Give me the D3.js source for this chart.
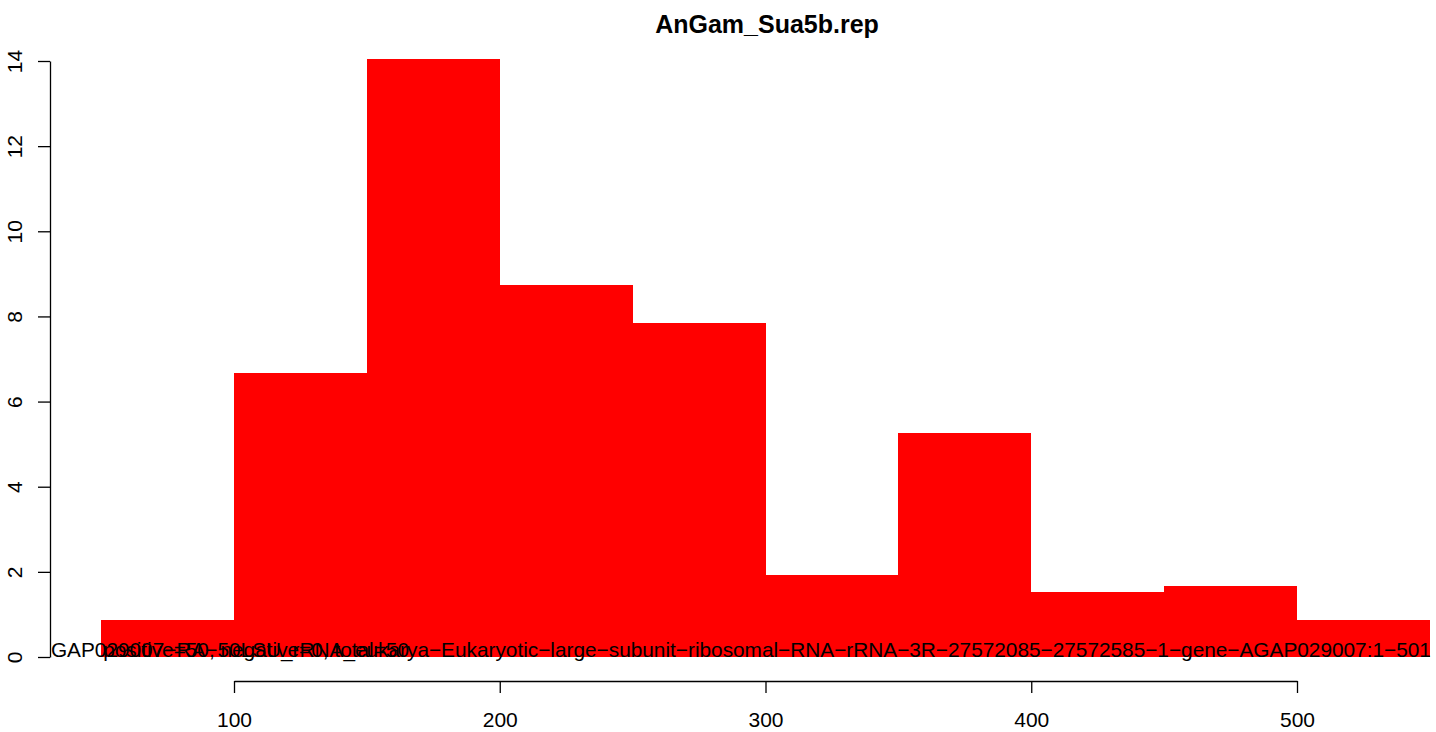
<!DOCTYPE html>
<html>
<head>
<meta charset="utf-8">
<script src="https://cdn.jsdelivr.net/npm/d3@7"></script>
<style>
html, body { margin: 0; padding: 0; background: #fff; }
svg { display: block; font-family: "Liberation Sans", Arial, Helvetica, sans-serif; }
</style>
</head>
<body>
<svg id="chart" width="1436" height="732"></svg>
<script>
// ---- data ----
const binStarts = [50, 100, 150, 200, 250, 300, 350, 400, 450, 500];
const binWidth = 50;
const densities = [0.88, 6.68, 14.05, 8.75, 7.85, 1.92, 5.27, 1.52, 1.67, 0.88];
const xTicks = [100, 200, 300, 400, 500];
const yTicks = [0, 2, 4, 6, 8, 10, 12, 14];
const titleText = "AnGam_Sua5b.rep";
const labelA = "AGAP029007\u2212RA\u221250LSU_rRNA_eukarya\u2212Eukaryotic\u2212large\u2212subunit\u2212ribosomal\u2212RNA\u2212rRNA\u22123R\u221227572085\u221227572585\u22121\u2212gene\u2212AGAP029007:1\u2212501";
const labelB = "positive=50, negative=0, total=50";

// ---- layout ----
const svg = d3.select("#chart");
const x = d3.scaleLinear().domain([100, 500]).range([234, 1297]);
const y = d3.scaleLinear().domain([0, 14]).range([657, 61]);
const fontSize = 21;

// clip for plot region
svg.append("defs").append("clipPath").attr("id", "plotclip")
  .append("rect").attr("x", 50).attr("y", 0).attr("width", 1436 - 50).attr("height", 732);

// bars
svg.append("g").selectAll("rect")
  .data(binStarts.map((s, i) => ({ s, v: densities[i] })))
  .join("rect")
  .attr("x", d => x(d.s))
  .attr("width", d => x(d.s + binWidth) - x(d.s))
  .attr("y", d => y(d.v))
  .attr("height", d => y(0) - y(d.v))
  .attr("fill", "#ff0000")
  .attr("shape-rendering", "crispEdges");

// overlapping labels at baseline
const lab = svg.append("g").attr("clip-path", "url(#plotclip)")
  .attr("font-size", 20.8).attr("fill", "#000");
lab.append("text").attr("x", x(550) + 1).attr("y", y(0)).attr("text-anchor", "end").text(labelA);
lab.append("text").attr("x", x(50) + 2).attr("y", y(0)).attr("text-anchor", "start").text(labelB);

// x axis
const xAxis = d3.axisBottom(x).tickValues(xTicks).tickSize(12).tickSizeOuter(0).tickPadding(19)
  .tickFormat(d3.format("d"));
const gx = svg.append("g").attr("transform", "translate(0,681)").call(xAxis);
gx.attr("font-family", null);
gx.selectAll("text").attr("font-size", fontSize).attr("fill", "#000");
gx.selectAll("path,line").attr("stroke", "#000").attr("stroke-width", 1.3);

// y axis
const yAxis = d3.axisLeft(y).tickValues(yTicks).tickSize(12).tickSizeOuter(0).tickFormat(d3.format("d"));
const gy = svg.append("g").attr("transform", "translate(50,0)").call(yAxis);
gy.attr("font-family", null);
gy.selectAll("path,line").attr("stroke", "#000").attr("stroke-width", 1.3);
gy.selectAll("text")
  .attr("font-size", fontSize).attr("fill", "#000")
  .attr("x", 0).attr("y", -28).attr("dy", 0)
  .attr("text-anchor", "middle")
  .attr("transform", "rotate(-90)");

// title
svg.append("text").attr("x", 767).attr("y", 33)
  .attr("text-anchor", "middle").attr("font-size", 25).attr("font-weight", "bold")
  .text(titleText);
</script>
</body>
</html>
